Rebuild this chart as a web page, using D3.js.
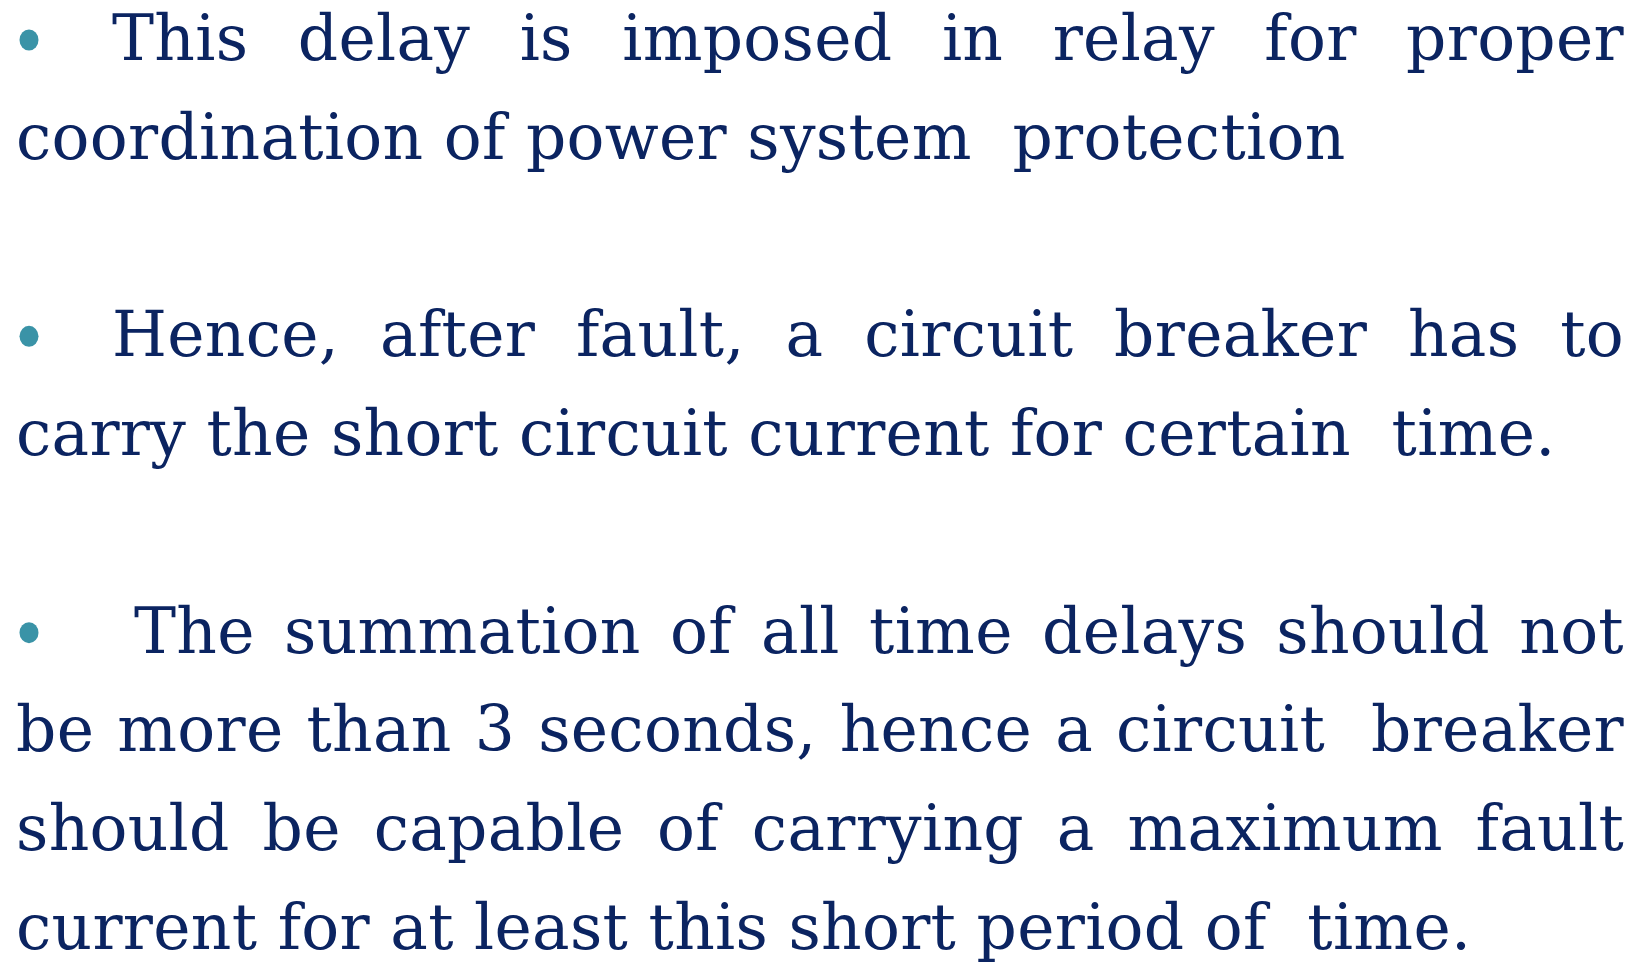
<!DOCTYPE html>
<html lang="en">
<head>
<meta charset="UTF-8" />
<style>
  html, body { margin: 0; padding: 0; background: #ffffff; }
  svg { display: block; }
  .txt { font-family: "DejaVu Serif", serif; fill: #0b2461; white-space: pre; letter-spacing: 0.3px; }
</style>
</head>
<body>
<svg width="1645" height="963"></svg>
<script src="https://d3js.org/d3.v7.min.js"></script>
<script>
// slide text, one array per bullet; each entry is one printed line
var para1 = ["This delay is imposed in relay for proper",
             "coordination of power system  protection"];
var para2 = ["Hence, after fault, a circuit breaker has to",
             "carry the short circuit current for certain  time."];
var para3 = ["The summation of all time delays should not",
             "be more than 3 seconds, hence a circuit  breaker",
             "should be capable of carrying a maximum fault",
             "current for at least this short period of  time."];
var paragraphs = [para1, para2, para3];
var bulletIndent = [96, 96, 118];   // extra lead-in after the bullet

var W = 1645, H = 963;
var left = 16, right = 1624, fontSize = 63;

var svg = d3.select("svg");

// baseline position by row number (blank rows between bullets)
var y = d3.scaleLinear().domain([0, 9]).range([60, 949]);

var rows = [];
var r = 0;
paragraphs.forEach(function (p, pi) {
    p.forEach(function (line, li) {
        rows.push({ text: line, row: r, first: li === 0, last: li === p.length - 1, para: pi });
        r++;
    });
    r++;
});

var g = svg.append("g");

rows.forEach(function (d) {
    var x0 = d.first ? left + bulletIndent[d.para] : left;
    var by = y(d.row);

    if (d.first) {
        g.append("ellipse")
            .attr("cx", 29).attr("cy", by - 20)
            .attr("rx", 9.5).attr("ry", 10.5)
            .attr("fill", "#3a93a7");
    }

    if (d.last) {
        g.append("text").attr("class", "txt")
            .attr("x", x0).attr("y", by)
            .attr("font-size", fontSize)
            .text(d.text);
        return;
    }

    // justified line: every space stretches by the same amount
    var words = d.text.split(" ");
    var nodes = words.map(function (w) {
        return g.append("text").attr("class", "txt")
            .attr("y", by).attr("font-size", fontSize).text(w);
    });
    var widths = nodes.map(function (n) { return w = n.node().getComputedTextLength(); });
    var total = d3.sum(widths);
    var gap = (right - x0 - total) / (words.length - 1);
    var cx = x0;
    nodes.forEach(function (n, i) {
        n.attr("x", cx);
        cx += widths[i] + gap;
    });
});
</script>
</body>
</html>
